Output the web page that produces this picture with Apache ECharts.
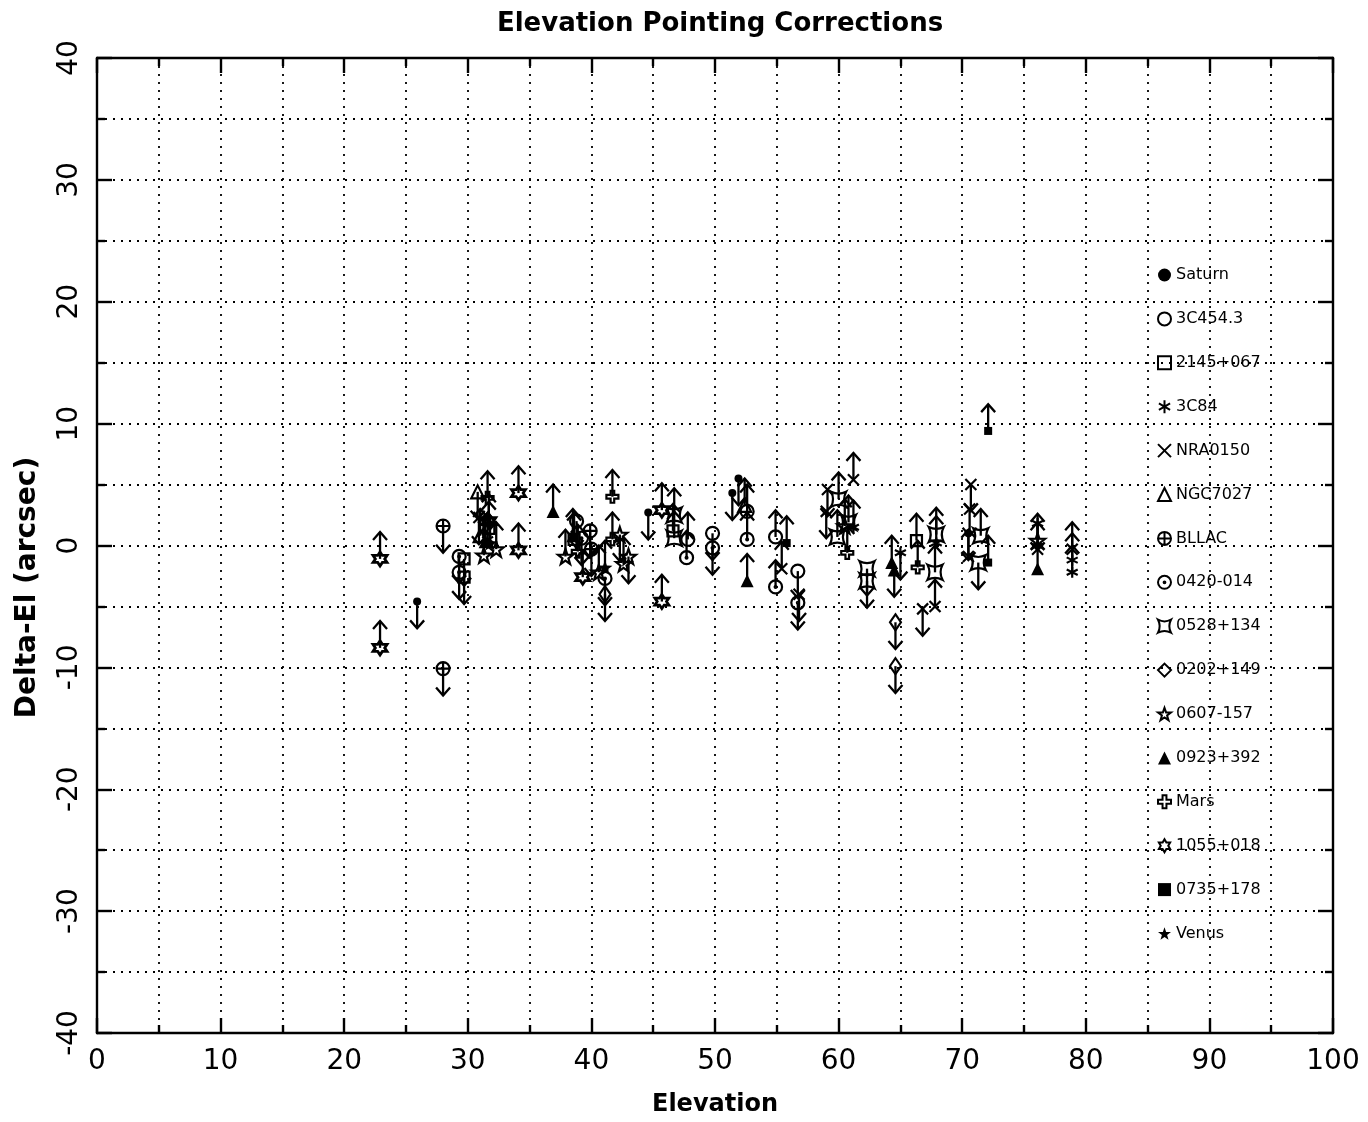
<!DOCTYPE html>
<html>
<head>
<meta charset="utf-8">
<script src="https://cdn.jsdelivr.net/npm/echarts@6/dist/echarts.min.js"></script>
<style>
html,body{margin:0;padding:0;background:#fff;}
#chart{width:1368px;height:1122px;}
</style>
</head>
<body>
<div id="chart"></div>
<script>
// ---- data: [elevation, deltaEl, arrowDirection(1 up / -1 down)] ----
const saturn   = [[25.9,-4.6,-1],[44.6,2.7,-1],[51.4,4.3,-1],[51.9,5.5,-1],[70.5,1.0,-1]];
const c3c454   = [[38.8,2.0,-1],[47.8,0.5,1],[49.8,1.0,-1],[52.6,2.8,1],[54.9,0.7,1],[56.7,-2.1,-1]];
const s2145    = [[29.7,-1.1,-1],[29.7,-2.6,-1],[31.7,1.4,1],[38.6,0.5,1],[46.6,1.2,1],[66.3,0.4,1]];
const c3c84    = [[31.6,0.5,1],[61.2,1.5,1],[65.0,-0.6,-1],[67.9,0.2,1],[76.1,1.8,-1],[78.9,-1.2,1],[78.9,-2.2,1]];
const nrao150  = [[30.9,2.3,-1],[55.4,-1.9,1],[56.8,-4.0,-1],[59.1,4.6,-1],[59.0,2.8,-1],[61.2,5.4,1],[66.8,-5.2,-1],[67.8,-5.0,1],[70.7,5.0,-1],[70.6,3.0,-1],[70.5,-0.9,1],[76.1,-0.3,1],[78.9,-0.3,1]];
const ngc7027  = [[30.8,4.4,-1],[31.0,0.8,1],[52.4,3.3,1]];
const bllac    = [[28.0,1.6,-1],[28.0,-10.1,-1],[39.9,1.2,-1],[40.0,-0.3,-1]];
const s0420    = [[29.3,-0.9,-1],[29.3,-2.2,-1],[39.2,0.6,-1],[41.1,-2.7,-1],[47.7,-1.0,1],[49.8,-0.2,-1],[52.6,0.5,1],[54.9,-3.4,1],[56.7,-4.7,-1]];
const s0528    = [[46.7,2.5,1],[46.7,0.6,1],[60.0,3.8,1],[59.9,0.7,1],[60.8,1.9,1],[62.3,-1.9,-1],[62.3,-2.9,-1],[67.9,0.9,1],[67.8,-2.2,1],[71.5,0.8,1],[71.3,-1.4,-1]];
const s0202    = [[41.1,-4.0,-1],[64.6,-6.3,-1],[64.6,-9.9,-1]];
const s0607    = [[31.3,-0.8,1],[32.3,-0.3,1],[37.9,-0.9,1],[40.6,-2.2,1],[42.3,0.9,-1],[42.6,-1.5,1],[43.0,-0.9,-1],[60.5,1.6,1],[76.1,0.4,1]];
const s0923    = [[31.4,0.3,1],[36.9,2.8,1],[38.5,0.8,1],[52.6,-2.9,1],[64.3,-1.4,1],[64.5,-2.0,-1],[76.1,-1.9,1]];
const mars     = [[31.6,3.9,1],[38.9,-0.5,1],[41.7,4.0,1],[41.7,0.5,1],[60.7,-0.6,1],[66.4,-1.8,1]];
const s1055    = [[22.9,-1.1,1],[22.9,-8.4,1],[31.7,2.0,1],[34.1,4.3,1],[34.1,-0.4,1],[39.3,-2.6,1],[45.7,2.9,1],[45.7,-4.6,1]];
const s0735    = [[55.8,0.2,1],[72.1,9.4,1],[72.1,-1.4,1]];
const venus    = [[31.8,0.2,1],[41.1,-1.8,1]];

const sourceNames = ['Saturn','3C454.3','2145+067','3C84','NRA0150','NGC7027','BLLAC','0420-014','0528+134','0202+149','0607-157','0923+392','Mars','1055+018','0735+178','Venus'];
const xTicks = {min:0, max:100, interval:10};
const yTicks = {min:-40, max:40, interval:10};
const ARROW_LEN = 2.2;

// ---- symbol shapes ----
const P = {
  asterisk: 'path://M5,0 V10 M0.7,2.5 L9.3,7.5 M0.7,7.5 L9.3,2.5',
  cross: 'path://M0,0 L10,10 M0,10 L10,0',
  bllac: 'path://M0,5 A5,5 0 1 1 10,5 A5,5 0 1 1 0,5 Z M5,0 V10 M0,5 H10',
  dotc: 'path://M0,5 A5,5 0 1 1 10,5 A5,5 0 1 1 0,5 Z M4.3,5 A0.7,0.7 0 1 1 5.7,5 A0.7,0.7 0 1 1 4.3,5 Z',
  concave: 'path://M0,0 Q5,2.6 10,0 Q7.4,5 10,10 Q5,7.4 0,10 Q2.6,5 0,0 Z',
  star: 'path://M5,0 L6.18,3.38 L9.76,3.45 L6.9,5.62 L7.94,9.05 L5,7 L2.06,9.05 L3.1,5.62 L0.24,3.45 L3.82,3.38 Z',
  mars: 'path://M3.5,0 H6.5 V3.5 H10 V6.5 H6.5 V10 H3.5 V6.5 H0 V3.5 H3.5 Z',
  hexa: 'path://M5,0 L6.44,2.5 L9.33,2.5 L7.89,5 L9.33,7.5 L6.44,7.5 L5,10 L3.56,7.5 L0.67,7.5 L2.11,5 L0.67,2.5 L3.56,2.5 Z'
};
const CLEAR = 'rgba(0,0,0,0)';
const styles = [
  {d:saturn, symbol:'circle', size:8, fill:'#000', bw:0},
  {d:c3c454, symbol:'circle', size:13, fill:CLEAR, bw:2.2},
  {d:s2145, symbol:'rect', size:11, fill:CLEAR, bw:2.2},
  {d:c3c84, symbol:P.asterisk, size:11, fill:CLEAR, bw:2.2},
  {d:nrao150, symbol:P.cross, size:11, fill:CLEAR, bw:2.2},
  {d:ngc7027, symbol:'triangle', size:13, fill:CLEAR, bw:2.2},
  {d:bllac, symbol:P.bllac, size:13, fill:CLEAR, bw:2.2},
  {d:s0420, symbol:P.dotc, size:13, fill:CLEAR, bw:2.2},
  {d:s0528, symbol:P.concave, size:15, fill:CLEAR, bw:2.2},
  {d:s0202, symbol:'diamond', size:[11,16], fill:CLEAR, bw:2.2},
  {d:s0607, symbol:P.star, size:15, fill:CLEAR, bw:2.2},
  {d:s0923, symbol:'triangle', size:13, fill:'#000', bw:0},
  {d:mars, symbol:P.mars, size:12, fill:CLEAR, bw:2.2},
  {d:s1055, symbol:P.hexa, size:14, fill:CLEAR, bw:2.8},
  {d:s0735, symbol:'rect', size:8, fill:'#000', bw:0},
  {d:venus, symbol:P.star, size:15, fill:'#000', bw:0}
];

const FONT = 'DejaVu Sans';
const series = [];
const allArrows = [];
styles.forEach((s, i) => {
  s.d.forEach(p => allArrows.push(p));
  series.push({
    type:'scatter', name: sourceNames[i], data: s.d,
    symbol: s.symbol, symbolSize: s.size,
    itemStyle:{color:s.fill, borderColor:'#000', borderWidth:s.bw, opacity:1},
    xAxisIndex:0, yAxisIndex:0, z:4,
    emphasis:{disabled:true}
  });
});
series.unshift({
  type:'custom', name:'arrows', data: allArrows, z:3, silent:true,
  encode:{x:0, y:1},
  renderItem: function(params, api){
    const x = api.value(0), y = api.value(1), d = api.value(2);
    const p0 = api.coord([x, y]);
    const p1 = api.coord([x, y + d*ARROW_LEN]);
    const w = 7, h = 8;
    return {type:'group', children:[
      {type:'line', shape:{x1:p0[0], y1:p0[1], x2:p1[0], y2:p1[1]}, style:{stroke:'#000', lineWidth:2.3}},
      {type:'polyline', shape:{points:[[p1[0]-w, p1[1]+d*h],[p1[0], p1[1]],[p1[0]+w, p1[1]+d*h]]}, style:{stroke:'#000', lineWidth:2.3, fill:null}}
    ]};
  }
});

const dotted = {show:true, lineStyle:{color:'#000', type:[2,6], width:1.8}};
function mkAxis(base, extra){
  return Object.assign({
    type:'value', min:base.min, max:base.max, interval:base.interval,
    axisLine:{show:true, onZero:false, lineStyle:{color:'#000', width:2.4}},
    axisTick:{show:true, inside:true, length:15, lineStyle:{color:'#000', width:2.4}},
    minorTick:{show:true, splitNumber:2, length:8, lineStyle:{color:'#000', width:2.4}},
    splitLine:{show:false}, minorSplitLine:{show:false},
    axisLabel:{show:false}
  }, extra);
}

const option = {
  animation:false,
  backgroundColor:'#fff',
  title:{text:'Elevation Pointing Corrections', left:715, textAlign:'center', top:6,
    textStyle:{fontFamily:FONT, fontSize:26, fontWeight:'bold', color:'#000'}},
  grid:{left:97, top:58, right:35, bottom:87},
  legend:{orient:'vertical', left:1152, top:262, itemWidth:13, itemHeight:13, itemGap:27.9,
    selectedMode:false, data:sourceNames,
    textStyle:{fontFamily:FONT, fontSize:16, color:'#000'}},
  xAxis:[
    mkAxis(xTicks, {position:'bottom', name:'Elevation', nameLocation:'middle', nameGap:60,
      nameTextStyle:{fontFamily:FONT, fontSize:24, fontWeight:'bold', color:'#000'},
      splitLine:dotted, minorSplitLine:dotted,
      axisLabel:{show:true, margin:15, fontFamily:FONT, fontSize:28, color:'#000'}}),
    mkAxis(xTicks, {position:'top'})
  ],
  yAxis:[
    mkAxis(yTicks, {position:'left', name:'Delta-El (arcsec)', nameLocation:'middle', nameGap:55,
      nameTextStyle:{fontFamily:FONT, fontSize:28, fontWeight:'bold', color:'#000', padding:[0,84,0,0]},
      splitLine:dotted, minorSplitLine:dotted,
      axisLabel:{show:true, rotate:90, margin:13, fontFamily:FONT, fontSize:28, color:'#000'}}),
    mkAxis(yTicks, {position:'right'})
  ],
  series: series
};
const chart = echarts.init(document.getElementById('chart'), null, {renderer:'canvas'});
chart.setOption(option);
</script>
</body>
</html>
